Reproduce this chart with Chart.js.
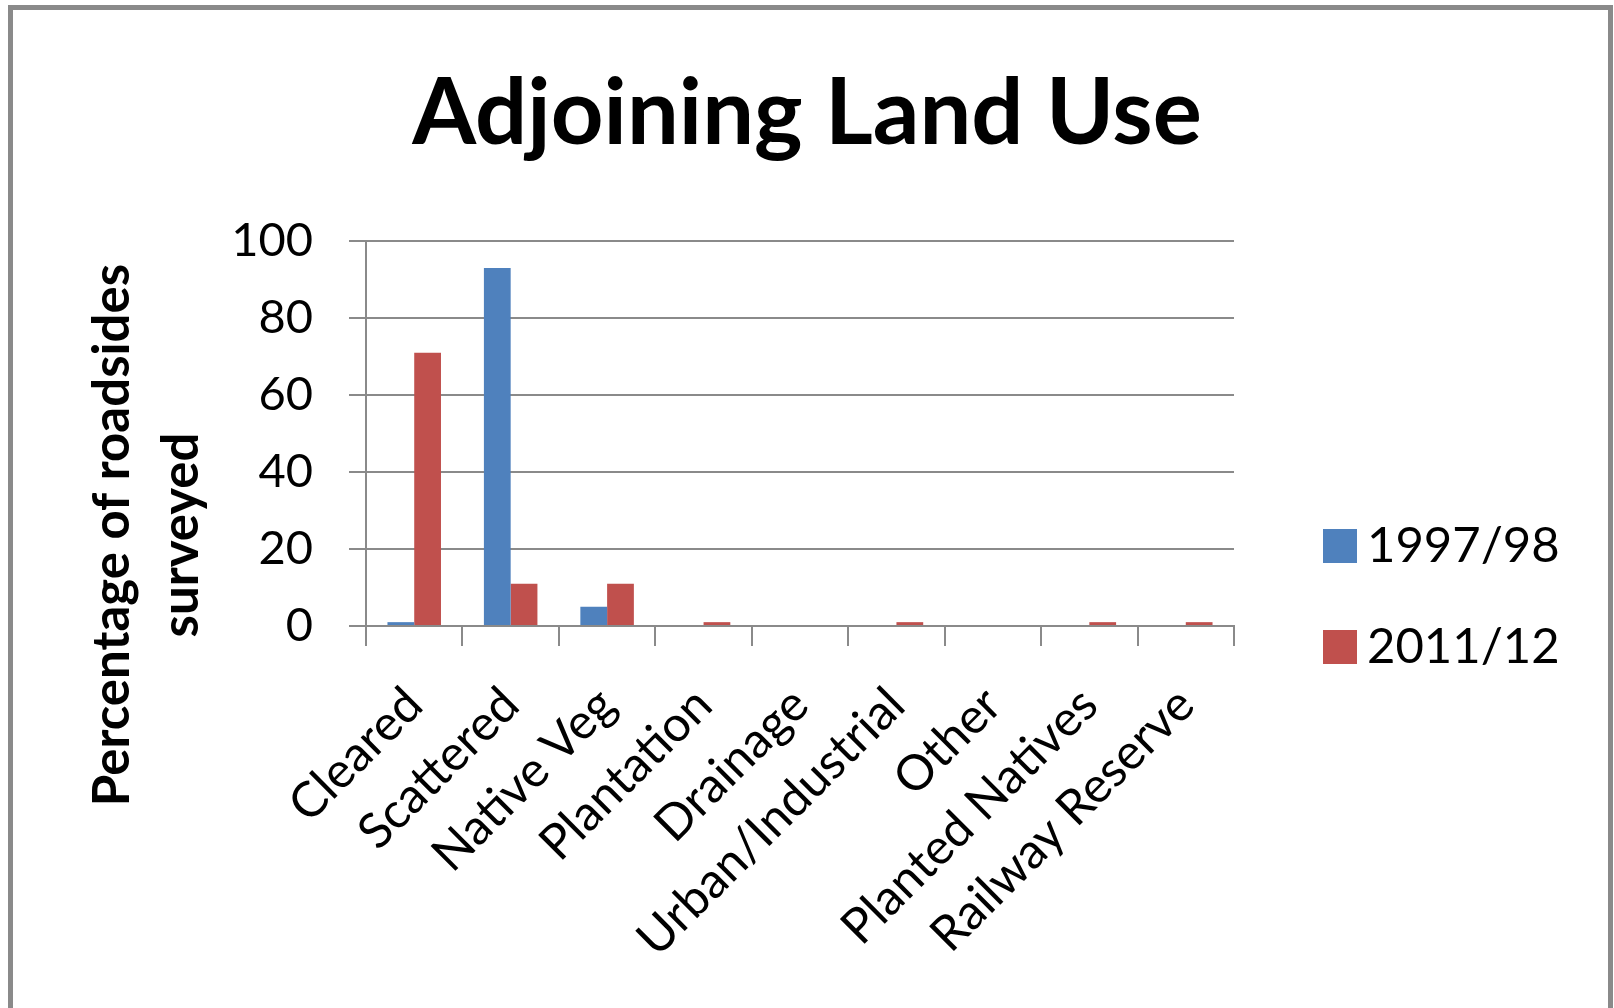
<!DOCTYPE html>
<html>
<head>
<meta charset="utf-8">
<script src="https://cdn.jsdelivr.net/npm/chart.js@4"></script>
<style>
  html, body { margin: 0; padding: 0; background: #ffffff; overflow: hidden; }
  #wrap { position: relative; width: 1614px; height: 1008px; }
  #c { position: absolute; left: 0; top: 0; }
  #frame { position: absolute; left: 8px; top: 5px; width: 1595px; height: 1100px;
           border: 5px solid #8a8a8a; box-sizing: content-box; pointer-events: none; }
</style>
</head>
<body>
<div id="wrap">
  <canvas id="c" width="1614" height="1008"></canvas>
  <div id="frame"></div>
</div>
<script>
const chartTitle = "Adjoining Land Use";
const yAxisTitleLines = ["Percentage of roadsides", "surveyed"];
const categories = ["Cleared", "Scattered", "Native Veg", "Plantation", "Drainage",
                    "Urban/Industrial", "Other", "Planted Natives", "Railway Reserve"];
const seriesNames = ["1997/98", "2011/12"];
const values1997 = [1, 93, 5, 0, 0, 0, 0, 0, 0];
const values2011 = [71, 11, 11, 1, 0, 1, 0, 1, 1];
const yTicks = [0, 20, 40, 60, 80, 100];

const colors = ["#4F81BD", "#C0504D"];
const gridColor = "#8a8a8a";

const yTitlePlugin = {
  id: "yTitle",
  afterDraw(chart) {
    const ctx = chart.ctx;
    ctx.save();
    ctx.fillStyle = "#000";
    ctx.font = "bold 51px Lato";
    ctx.textAlign = "center";
    ctx.textBaseline = "alphabetic";
    const baselines = [129, 198];
    yAxisTitleLines.forEach((line, i) => {
      ctx.save();
      ctx.translate(baselines[i], 535);
      ctx.rotate(-Math.PI / 2);
      ctx.fillText(line, 0, 0);
      ctx.restore();
    });
    ctx.restore();
  }
};

const legendPlugin = {
  id: "customLegend",
  afterDraw(chart) {
    const ctx = chart.ctx;
    ctx.save();
    ctx.font = "49px Lato";
    ctx.textAlign = "left";
    ctx.textBaseline = "middle";
    const rows = [546, 647];
    chart.data.datasets.forEach((ds, i) => {
      const cy = rows[i];
      ctx.fillStyle = ds.backgroundColor;
      ctx.fillRect(1323, cy - 17, 34, 34);
      ctx.fillStyle = "#000";
      ctx.fillText(ds.label, 1367, cy);
    });
    ctx.restore();
  }
};

new Chart(document.getElementById("c"), {
  type: "bar",
  data: {
    labels: categories,
    datasets: [
      { label: seriesNames[0], data: values1997, backgroundColor: colors[0],
        categoryPercentage: 0.555, barPercentage: 1.0 },
      { label: seriesNames[1], data: values2011, backgroundColor: colors[1],
        categoryPercentage: 0.555, barPercentage: 1.0 }
    ]
  },
  options: {
    responsive: false,
    animation: false,
    devicePixelRatio: 1,
    layout: { padding: { top: 0, right: 0, bottom: 0, left: 0 } },
    plugins: {
      legend: { display: false },
      tooltip: { enabled: false },
      title: {
        display: true,
        text: chartTitle,
        color: "#000",
        font: { family: "Lato", size: 92, weight: "bold", lineHeight: 1.2 },
        padding: { top: 59, bottom: 71.6 }
      }
    },
    scales: {
      x: {
        grid: { display: true, drawOnChartArea: false, drawTicks: true, tickLength: 20,
                color: gridColor, lineWidth: 2, offset: true },
        border: { display: true, color: gridColor, width: 2 },
        ticks: {
          autoSkip: false, maxRotation: 45, minRotation: 45,
          padding: 30, labelOffset: 0,
          color: "#000", font: { family: "Lato", size: 49 }
        },
        afterFit(scale) { scale.height = 382; }
      },
      y: {
        min: 0, max: 100,
        afterBuildTicks(scale) { scale.ticks = yTicks.map(v => ({ value: v })); },
        grid: { color: gridColor, lineWidth: 2, tickLength: 17, drawTicks: true },
        border: { display: true, color: gridColor, width: 2 },
        ticks: { padding: 36, color: "#000", font: { family: "Lato", size: 47 } },
        afterFit(scale) { scale.width = 366; }
      },
      legendSpace: {
        type: "linear",
        position: "right",
        display: true,
        grid: { display: false, drawTicks: false },
        border: { display: false },
        ticks: { display: false },
        afterFit(scale) { scale.width = 380; }
      }
    }
  },
  plugins: [yTitlePlugin, legendPlugin]
});
</script>
</body>
</html>
